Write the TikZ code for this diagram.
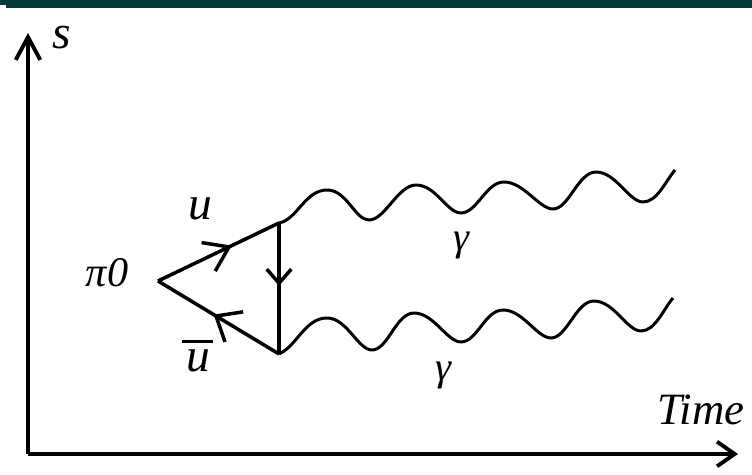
\documentclass[tikz,border=0pt]{standalone}
\usepackage{fontspec}
\newfontfamily\labelfont{Liberation Serif Italic}
\usetikzlibrary{arrows.meta,decorations.markings}
\definecolor{barcolor}{HTML}{003A36}
\begin{document}
\begin{tikzpicture}[
    x=0.02cm,
    y=-0.02cm,
    axis/.style={line width=2.2pt},
    quark/.style={line width=2pt},
    wave/.style={line width=1.7pt, line join=round},
    midarr/.style n args={3}{
        postaction={decorate},
        decoration={markings, mark=at position #1 with
            {\arrow{Straight Barb[length=#2, width=#3]}}}
    },
    lab/.style={anchor=base, inner sep=0pt, font=\labelfont\fontsize{27}{27}\selectfont},
    gam/.style={lab, font=\labelfont\fontsize{23}{23}\selectfont},
]
    \useasboundingbox (0,0) rectangle (752,475);
    \fill[barcolor] (0,0) rectangle (752,5);
    \fill[barcolor] (6,0) rectangle (752,8);

    \coordinate (origin) at (28,454);
    \coordinate (stop) at (28,33);
    \coordinate (timeend) at (738,454);
    \draw[axis, -{Straight Barb[length=13pt, width=14pt]}] (origin) -- (stop);
    \draw[axis, -{Straight Barb[length=10pt, width=14pt]}] (origin) -- (timeend);

    \coordinate (left) at (158,281);
    \coordinate (top) at (279,223);
    \coordinate (bot) at (279,354);
    \draw[quark, midarr={0.61}{13pt}{18pt}] (left) -- (top);
    \draw[quark, midarr={0.54}{12pt}{20pt}] (bot) -- (left);
    \draw[quark, midarr={0.48}{8pt}{14pt}] (top) -- (bot);

    \coordinate (endA) at (675,170);
    \coordinate (endB) at (673,298);
    \draw[wave] (top) .. controls +(18,-3) and +(-22,0) .. (327,190)
        .. controls +(20,0) and +(-14,0) .. (369,220)
        .. controls +(16,0) and +(-18,0) .. (416,185)
        .. controls +(20,0) and +(-14,0) .. (461,213)
        .. controls +(16,0) and +(-18,0) .. (504,182)
        .. controls +(20,0) and +(-14,0) .. (553,209)
        .. controls +(16,0) and +(-18,0) .. (596,172)
        .. controls +(20,0) and +(-14,0) .. (643,202)
        .. controls +(14,0) and +(-10,12) .. (endA);
    \draw[wave] (bot) .. controls +(18,-8) and +(-22,0) .. (327,318)
        .. controls +(20,0) and +(-14,0) .. (372,350)
        .. controls +(16,0) and +(-18,0) .. (414,313)
        .. controls +(20,0) and +(-14,0) .. (461,342)
        .. controls +(16,0) and +(-18,0) .. (503,310)
        .. controls +(20,0) and +(-14,0) .. (551,338)
        .. controls +(16,0) and +(-18,0) .. (594,301)
        .. controls +(20,0) and +(-14,0) .. (641,331)
        .. controls +(14,0) and +(-10,12) .. (endB);

    \node[lab] (saxis) at (62,49) {s};
    \node[lab] (up) at (200,220) {u};
    \node[lab] (upbar) at (198,372) {u};
    \node[lab, font=\labelfont\fontsize{24}{24}\selectfont] (pion) at (107,287) {π0};
    \node[gam] (gammaA) at (461,251) {γ};
    \node[gam] (gammaB) at (443,381) {γ};
    \node[lab, font=\labelfont\fontsize{25.5}{26}\selectfont] (timelab) at (701,425) {Time};

    \coordinate (barA) at (182,342);
    \coordinate (barB) at (213,342);
    \draw[line width=1.7pt] (barA) -- (barB);
\end{tikzpicture}
\end{document}
